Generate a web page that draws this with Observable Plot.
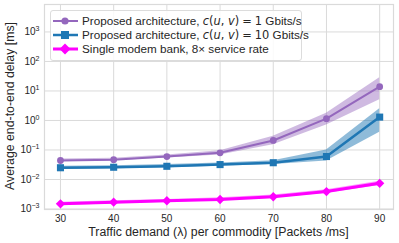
<!DOCTYPE html>
<html><head><meta charset="utf-8">
<script src="https://cdn.jsdelivr.net/npm/d3@7"></script>
<script src="https://cdn.jsdelivr.net/npm/@observablehq/plot@0.6"></script>
<style>
body{margin:0;background:#fff;font-family:"Liberation Sans",Arial,sans-serif;color:#262626;}
#wrap{position:relative;width:399px;height:243px;}
#legend{position:absolute;left:50px;top:10px;width:252px;height:51px;border:1px solid #dcdcdc;border-radius:3px;background:rgba(255,255,255,0.85);font-size:11.7px;box-sizing:border-box;}
.row{position:absolute;left:1px;height:14px;line-height:14px;white-space:nowrap;}
.row svg{position:absolute;left:0;top:0;}
.row span.t{position:absolute;left:30px;top:0;}
.m{font-family:"DejaVu Sans";font-style:italic;font-size:11.4px;}
.n{font-family:"DejaVu Sans";font-size:11.4px;}
.eq{font-family:"DejaVu Sans";font-size:11.4px;margin:0 3px;}
#xl{position:absolute;left:44px;width:349px;top:225px;text-align:center;font-size:12.3px;}
#yl{position:absolute;left:10px;top:106px;transform:translate(-50%,-50%) rotate(-90deg);white-space:nowrap;font-size:12.3px;}
</style></head>
<body><div id="wrap"><div id="chart"></div>
<div id="legend"></div>
<div id="xl">Traffic demand (λ) per commodity [Packets /ms]</div>
<div id="yl">Average end-to-end delay [ms]</div>
</div>
<script>
const demand = [30, 40, 50, 60, 70, 80, 90];
const yTicks = [1e-3, 1e-2, 1e-1, 1e0, 1e1, 1e2, 1e3];

const p1Mean = [0.044, 0.047, 0.060, 0.080, 0.21, 1.15, 14];
const p1Low  = [0.040, 0.043, 0.054, 0.068, 0.15, 0.70, 5.0];
const p1High = [0.049, 0.052, 0.067, 0.095, 0.29, 1.75, 28];

const p10Mean = [0.025, 0.026, 0.028, 0.032, 0.037, 0.060, 1.3];
const p10Low  = [0.022, 0.023, 0.025, 0.028, 0.032, 0.042, 0.40];
const p10High = [0.028, 0.029, 0.032, 0.036, 0.043, 0.100, 2.5];

const smbMean = [0.0015, 0.0017, 0.0019, 0.0021, 0.0026, 0.0039, 0.0074];
const smbLow  = [0.0013, 0.0015, 0.0017, 0.0019, 0.0023, 0.0034, 0.0062];
const smbHigh = [0.0017, 0.0019, 0.0021, 0.0024, 0.0030, 0.0045, 0.0088];

const seriesNames = [
  "Proposed architecture, c(u, v) = 1 Gbits/s",
  "Proposed architecture, c(u, v) = 10 Gbits/s",
  "Single modem bank, 8× service rate"
];
const capacities = ["1", "10"];
const colors = ["#9467bd", "#1f77b4", "#ff00ff"];

const mk = (mean, lo, hi, s) => demand.map((d, i) => ({x: d, y: mean[i], lo: lo[i], hi: hi[i], s}));
const r1 = mk(p1Mean, p1Low, p1High, 0);
const r2 = mk(p10Mean, p10Low, p10High, 1);
const r3 = mk(smbMean, smbLow, smbHigh, 2);

const grid = "#dadada";
const chart = Plot.plot({
  width: 399, height: 243,
  marginLeft: 44, marginTop: 4, marginRight: 6, marginBottom: 34,
  style: {fontFamily: "Liberation Sans, Arial, sans-serif", fontSize: "10px", color: "#262626", background: "white"},
  x: {domain: [27, 92.6]},
  y: {type: "log", domain: [Math.pow(10, -3.017), Math.pow(10, 3.93)]},
  marks: [
    Plot.gridX(demand, {stroke: grid, strokeOpacity: 1, strokeWidth: 1}),
    Plot.gridY(yTicks, {stroke: grid, strokeOpacity: 1, strokeWidth: 1}),
    Plot.frame({stroke: grid, strokeWidth: 1.2}),
    Plot.axisX(demand, {tickSize: 0, tickPadding: 5, label: null, fontSize: 10}),
    Plot.axisY(yTicks, {tickSize: 0, tickPadding: 5, label: null, fontSize: 10, tickFormat: d => "10^" + Math.round(Math.log10(d))}),
    Plot.areaY(r1, {x: "x", y1: "lo", y2: "hi", fill: colors[0], fillOpacity: 0.45}),
    Plot.areaY(r2, {x: "x", y1: "lo", y2: "hi", fill: colors[1], fillOpacity: 0.5}),
    Plot.areaY(r3, {x: "x", y1: "lo", y2: "hi", fill: colors[2], fillOpacity: 0.4}),
    Plot.lineY(r1, {x: "x", y: "y", stroke: colors[0], strokeWidth: 2}),
    Plot.lineY(r2, {x: "x", y: "y", stroke: colors[1], strokeWidth: 2.5}),
    Plot.lineY(r3, {x: "x", y: "y", stroke: colors[2], strokeWidth: 3}),
    Plot.dot(r1, {x: "x", y: "y", fill: colors[0], r: 3.4, symbol: "circle"}),
    Plot.dot(r2, {x: "x", y: "y", fill: colors[1], r: 4, symbol: "square"}),
    Plot.dot(r3, {x: "x", y: "y", fill: colors[2], r: 4.2, symbol: "diamond2"})
  ]
});
document.getElementById("chart").appendChild(chart);

// superscript exponents on y tick labels
d3.select(chart).selectAll('g[aria-label="y-axis tick label"] text').each(function() {
  const t = d3.select(this);
  const exp = t.text().split("^")[1].replace("-", "\u2212");
  t.text("10");
  t.append("tspan").attr("dy", "-0.55em").attr("font-size", "7px").text(exp);
});

// legend
const leg = document.getElementById("legend");
const symSvg = [
  '<circle cx="13" cy="7" r="3.6" fill="#9467bd"/>',
  '<rect x="9" y="3" width="8" height="8" fill="#1f77b4"/>',
  '<path d="M13,1.5L18.5,7L13,12.5L7.5,7Z" fill="#ff00ff"/>'
];
const widths = [2, 2.5, 3];
const mathLabel = c => 'Proposed architecture, <span class="m">c</span><span class="n">(</span><span class="m">u</span><span class="n">, </span><span class="m">v</span><span class="n">)</span><span class="eq">=</span><span class="n">' + c + '</span> Gbits/s';
const labelsHtml = [mathLabel(capacities[0]), mathLabel(capacities[1]), seriesNames[2]];
[3, 17, 31].forEach((top, i) => {
  const row = document.createElement("div");
  row.className = "row";
  row.style.top = top + "px";
  row.innerHTML = '<svg width="27" height="14"><line x1="1" y1="7" x2="26" y2="7" stroke="' + colors[i] + '" stroke-width="' + widths[i] + '"/>' + symSvg[i] + '</svg><span class="t">' + labelsHtml[i] + '</span>';
  row.title = seriesNames[i];
  leg.appendChild(row);
});
</script>
</body></html>
